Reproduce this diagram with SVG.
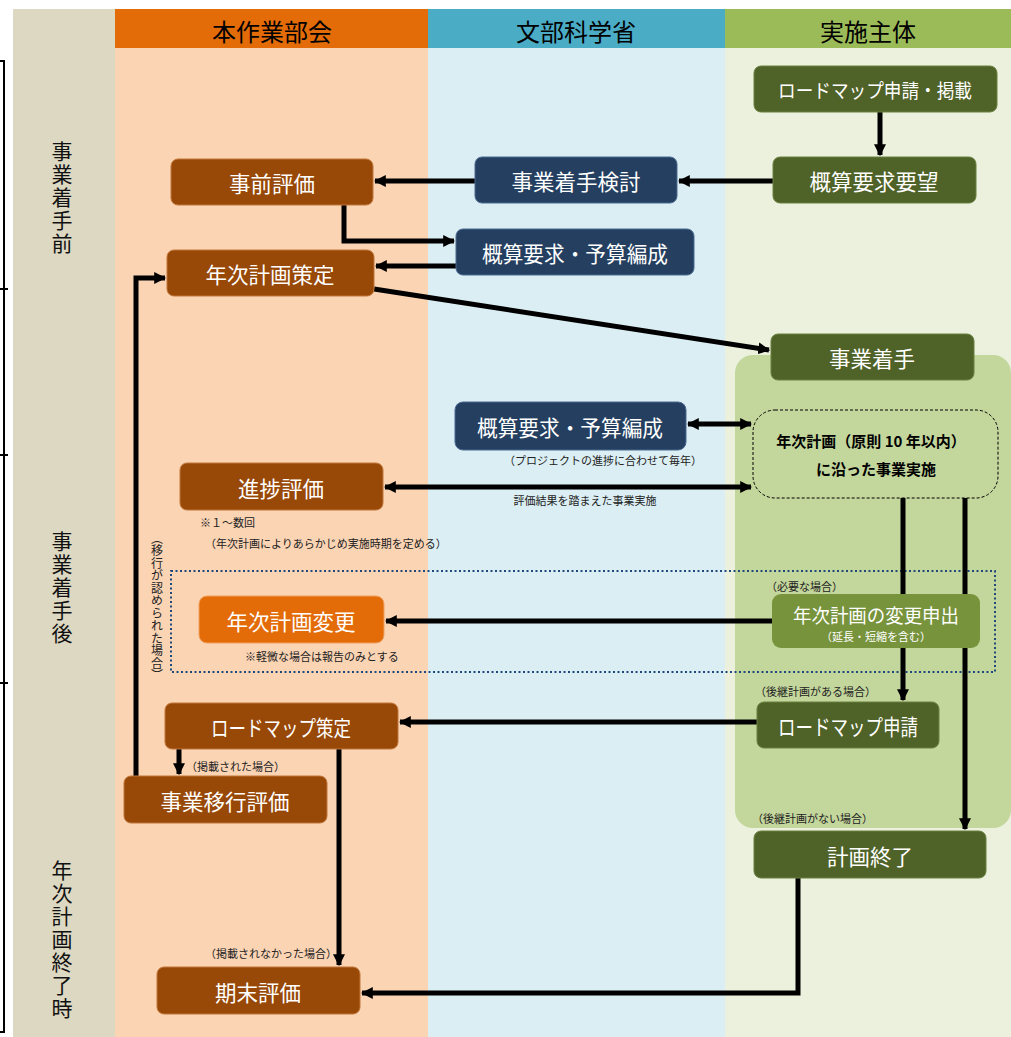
<svg xmlns="http://www.w3.org/2000/svg" width="1011" height="1037" viewBox="0 0 1011 1037">
<style>
text{font-family:"Noto Sans CJK JP","Noto Sans CJK SC",sans-serif}
.nt{fill:#fff;font-size:21.5px;text-anchor:middle;dominant-baseline:central}
.hd{fill:#000;font-size:24px;text-anchor:middle;dominant-baseline:central}
.sm{fill:#222;font-size:11px}
.vn{writing-mode:vertical-rl;fill:#222;font-size:12px;text-anchor:start;letter-spacing:0.5px}
.vt{writing-mode:vertical-rl;font-size:21px;fill:#111;text-anchor:middle;letter-spacing:2px}
.ln{stroke:#000;stroke-width:5;fill:none}
.br{fill:#984807;stroke:#C0763A;stroke-width:1}
.nv{fill:#243F60;stroke:#4A6A90;stroke-width:1}
.gr{fill:#4F6228;stroke:#6B8040;stroke-width:1}
</style>
<defs>
<marker id="ah" viewBox="0 0 10 10" refX="9" refY="5" markerWidth="12" markerHeight="12" markerUnits="userSpaceOnUse" orient="auto-start-reverse">
<path d="M0,0 L10,5 L0,10 z" fill="#000"/>
</marker>
</defs>
<rect width="1011" height="1037" fill="#fff"/>
<g id="lanes">
<rect x="13" y="9" width="102" height="1028" fill="#DDD8C2"/>
<rect x="115" y="9" width="313" height="39" fill="#E36C09"/>
<rect x="428" y="9" width="297" height="39" fill="#4BACC6"/>
<rect x="725" y="9" width="286" height="39" fill="#9BBB59"/>
<rect x="115" y="48" width="313" height="989" fill="#FBD4B4"/>
<rect x="428" y="48" width="297" height="989" fill="#DBEEF3"/>
<rect x="725" y="48" width="286" height="989" fill="#EBF1DD"/>
<text class="hd" x="272" y="30">本作業部会</text>
<text class="hd" x="576" y="30">文部科学省</text>
<text class="hd" x="868" y="30">実施主体</text>
<rect x="735" y="355" width="276" height="473" rx="18" fill="#C3D69B"/>
</g>
<g id="bracket" stroke="#000" stroke-width="2" fill="none">
<path d="M0,61 H4 V1032 H0"/>
<path d="M0,289 H8 M0,455 H8 M0,683 H8"/>
</g>
<g id="phases">
<text class="vt" x="62" y="198">事業着手前</text>
<text class="vt" x="62" y="588">事業着手後</text>
<text class="vt" x="62" y="940">年次計画終了時</text>
</g>
<rect x="171" y="571" width="824" height="101" fill="none" stroke="#1F497D" stroke-width="2" stroke-dasharray="2,2.5"/>
<g id="connectors">
<path class="ln" d="M880,112 V155" marker-end="url(#ah)"/>
<path class="ln" d="M773,181 H679" marker-end="url(#ah)"/>
<path class="ln" d="M475,181 H375" marker-end="url(#ah)"/>
<path class="ln" d="M344,205 V241 H454" marker-end="url(#ah)"/>
<path class="ln" d="M456,266 H376" marker-end="url(#ah)"/>
<path class="ln" d="M374,289 L769,350" marker-end="url(#ah)"/>
<path class="ln" d="M688,424 H751" marker-start="url(#ah)" marker-end="url(#ah)"/>
<path class="ln" d="M385,487 H751" marker-start="url(#ah)" marker-end="url(#ah)"/>
<path class="ln" d="M903,498 V700" marker-end="url(#ah)"/>
<path class="ln" d="M965,498 V829" marker-end="url(#ah)"/>
<path class="ln" d="M772,621 H386" marker-end="url(#ah)"/>
<path class="ln" d="M757,722 H400" marker-end="url(#ah)"/>
<path class="ln" d="M179,749 V774" marker-end="url(#ah)"/>
<path class="ln" d="M339,749 V965" marker-end="url(#ah)"/>
<path class="ln" d="M798,878 V993 H362" marker-end="url(#ah)"/>
<path class="ln" d="M136,776 V278 H165" marker-end="url(#ah)"/>
</g>
<g id="n-roadmap-apply-post"><rect class="gr" x="754" y="66" width="243" height="46" rx="7"/><text class="nt" x="875" y="89" style="font-size:19.5px" textLength="194" lengthAdjust="spacingAndGlyphs">ロードマップ申請・掲載</text></g>
<g id="n-gaisan-youbou"><rect class="gr" x="773" y="157" width="203" height="46" rx="7"/><text class="nt" x="874" y="180">概算要求要望</text></g>
<g id="n-jigyo-kento"><rect class="nv" x="475" y="157" width="202" height="46" rx="7"/><text class="nt" x="576" y="180">事業着手検討</text></g>
<g id="n-jizen"><rect class="br" x="171" y="159" width="202" height="46" rx="7"/><text class="nt" x="272" y="182">事前評価</text></g>
<g id="n-gaisan1"><rect class="nv" x="456" y="229" width="238" height="46" rx="7"/><text class="nt" x="575" y="252" textLength="186" lengthAdjust="spacingAndGlyphs">概算要求・予算編成</text></g>
<g id="n-nenji-sakutei"><rect class="br" x="167" y="250" width="207" height="46" rx="7"/><text class="nt" x="270" y="273">年次計画策定</text></g>
<g id="n-chakushu"><rect class="gr" x="771" y="334" width="203" height="46" rx="7"/><text class="nt" x="872" y="357">事業着手</text></g>
<g id="n-gaisan2"><rect class="nv" x="455" y="402" width="231" height="48" rx="8"/><text class="nt" x="570" y="426" textLength="186" lengthAdjust="spacingAndGlyphs">概算要求・予算編成</text></g>
<g id="n-jisshi"><rect x="753" y="410" width="245" height="88" rx="22" fill="#C3D69B" stroke="#000" stroke-width="1" stroke-dasharray="3,2"/>
<text x="871" y="447" font-size="15" font-weight="bold" fill="#000" text-anchor="middle">年次計画（原則 10 年以内）</text>
<text x="876" y="475" font-size="15" font-weight="bold" fill="#000" text-anchor="middle">に沿った事業実施</text></g>
<g id="n-shinchoku"><rect class="br" x="180" y="463" width="203" height="47" rx="7"/><text class="nt" x="281" y="487">進捗評価</text></g>
<g id="n-henko"><rect x="199" y="596" width="185" height="47" rx="8" fill="#E36C09" stroke="#F0A060" stroke-width="1"/><text class="nt" x="291" y="620">年次計画変更</text></g>
<g id="n-henko-moushide"><rect x="772" y="594" width="208" height="54" rx="9" fill="#77933C"/><text class="nt" x="876" y="614" style="font-size:19px" textLength="166" lengthAdjust="spacingAndGlyphs">年次計画の変更申出</text><text x="876" y="641" font-size="11" fill="#fff" text-anchor="middle">（延長・短縮を含む）</text></g>
<g id="n-roadmap-sakutei"><rect class="br" x="165" y="703" width="233" height="46" rx="7"/><text class="nt" x="281" y="726" textLength="140" lengthAdjust="spacingAndGlyphs">ロードマップ策定</text></g>
<g id="n-roadmap-shinsei"><rect class="gr" x="757" y="702" width="182" height="46" rx="7"/><text class="nt" x="848" y="725" textLength="140" lengthAdjust="spacingAndGlyphs">ロードマップ申請</text></g>
<g id="n-ikou"><rect class="br" x="124" y="776" width="203" height="47" rx="7"/><text class="nt" x="225" y="800">事業移行評価</text></g>
<g id="n-keikaku-shuryo"><rect class="gr" x="754" y="831" width="232" height="47" rx="7"/><text class="nt" x="870" y="855">計画終了</text></g>
<g id="n-kimatsu"><rect class="br" x="157" y="967" width="203" height="47" rx="7"/><text class="nt" x="258" y="991">期末評価</text></g>
<g id="labels">
<text class="sm" x="603" y="465" text-anchor="middle">（プロジェクトの進捗に合わせて毎年）</text>
<text class="sm" x="585" y="505" text-anchor="middle">評価結果を踏まえた事業実施</text>
<text class="sm" x="200" y="527">※１～数回</text>
<text class="sm" x="205" y="548">（年次計画によりあらかじめ実施時期を定める）</text>
<text class="sm" x="245" y="661">※軽微な場合は報告のみとする</text>
<text class="sm" x="766" y="591">（必要な場合）</text>
<text class="sm" x="755" y="696">（後継計画がある場合）</text>
<text class="sm" x="752" y="823">（後継計画がない場合）</text>
<text class="sm" x="186" y="771">（掲載された場合）</text>
<text class="sm" x="205" y="958">（掲載されなかった場合）</text>
<text class="vn" x="157" y="532">（移行が認められた場合）</text>
</g>
</svg>
